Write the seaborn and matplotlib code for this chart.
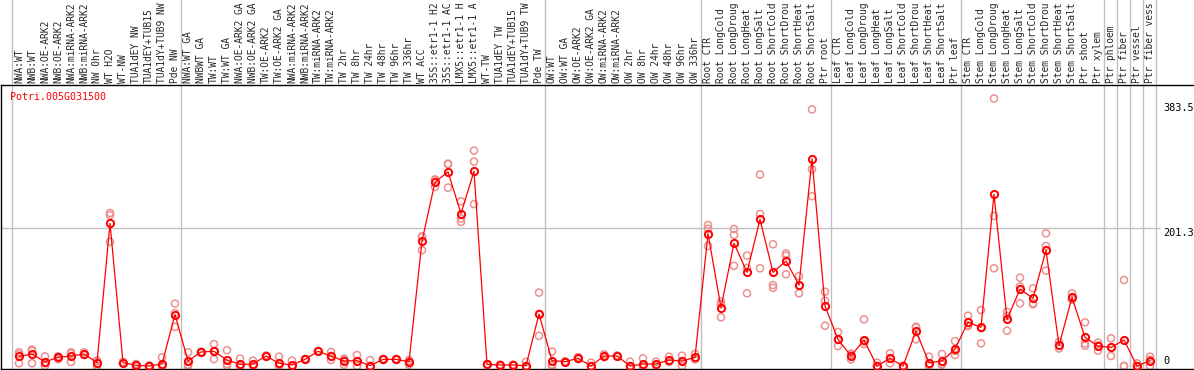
import matplotlib
matplotlib.use("Agg")
import matplotlib.pyplot as plt
import seaborn as sns
import pandas as pd

# sample labels, cut to 14 characters like in the source chart
samples = [
    "NWA:WT", "NWB:WT", "NWA:OE-ARK2", "NWB:OE-ARK2", "NWA:miRNA-ARK2", "NWB:miRNA-ARK2",
    "NW 0hr", "WT H2O", "WT-NW", "TUA1dEY NW", "TUA1dEY+TUB15", "TUA1dY+TUB9 NW", "Pde NW",
    "NWA:WT GA", "NWBWT GA", "TW:WT", "TW:WT GA", "NWA:OE-ARK2 GA", "NWB:OE-ARK2 GA",
    "TW:OE-ARK2", "TW:OE-ARK2 GA", "NWA:miRNA-ARK2", "NWB:miRNA-ARK2", "TW:miRNA-ARK2",
    "TW:miRNA-ARK2", "TW 2hr", "TW 8hr", "TW 24hr", "TW 48hr", "TW 96hr", "TW 336hr",
    "WT ACC", "35S::etr1-1 H2", "35S::etr1-1 AC", "LMX5::etr1-1 H", "LMX5::etr1-1 A",
    "WT-TW", "TUA1dEY TW", "TUA1dEY+TUB15", "TUA1dY+TUB9 TW", "Pde TW",
    "OW:WT", "OW:WT GA", "OW:OE-ARK2", "OW:OE-ARK2 GA", "OW:miRNA-ARK2", "OW:miRNA-ARK2",
    "OW 2hr", "OW 8hr", "OW 24hr", "OW 48hr", "OW 96hr", "OW 336hr",
    "Root CTR", "Root LongCold", "Root LongDroug", "Root LongHeat", "Root LongSalt",
    "Root ShortCold", "Root ShortDrou", "Root ShortHeat", "Root ShortSalt", "Ptr root",
    "Leaf CTR", "Leaf LongCold", "Leaf LongDroug", "Leaf LongHeat", "Leaf LongSalt",
    "Leaf ShortCold", "Leaf ShortDrou", "Leaf ShortHeat", "Leaf ShortSalt", "Ptr leaf",
    "Stem CTR", "Stem LongCold", "Stem LongDroug", "Stem LongHeat", "Stem LongSalt",
    "Stem ShortCold", "Stem ShortDrou", "Stem ShortHeat", "Stem ShortSalt", "Ptr shoot",
    "Ptr xylem", "Ptr phloem", "Ptr fiber", "Ptr vessel", "Ptr fiber vess",
]

means = [
    14, 17.5, 6, 12.6, 14.6, 17.5, 5, 208, 5, 1, 0, 3, 75,
    7.3, 20.4, 21.4, 8.7, 2.4, 2.9, 14.6, 3.9, 1.5, 9.7, 21.4, 14.6, 7.3, 7.8, 0.5,
    9.7, 9.7, 6.3, 182, 268, 283, 222, 284, 2.4, 1.5, 1.5, 0.5, 75.8,
    7.8, 6.3, 11.2, 0, 14.6, 14.6, 0, 2.9, 2.9, 8.7, 7.3, 12.6,
    193, 85, 179, 136.6, 213.8, 136.6, 153, 118, 302, 87.5,
    38.9, 14.6, 37.9, 0, 11.2, 0, 51, 4.9, 7.3, 24.8,
    63.7, 56.4, 250.3, 68, 112, 98.7, 169, 30, 100, 41.8, 29,
    27.2, 37.9, 0, 7.8,
]

rep1 = [
    20, 24, 14, 14, 20, 20, 7, 223, 6, 3, 1, 12.6, 91,
    20, 21, 32, 23, 10.7, 7.8, 15, 13.6, 7.8, 10.5, 22, 20.4, 10.7, 16, 8.7,
    10, 10, 8.7, 188, 271, 294, 240, 314, 3, 2, 2, 6, 107,
    21, 7, 13, 4.9, 17, 15, 6.3, 11.2, 6.3, 13.6, 15, 17.5,
    205.5, 93.7, 199.7, 161, 279, 177.4, 164, 131, 374, 108.3,
    49.6, 18, 68, 4.9, 18.5, 0, 57.3, 13.6, 17.5, 36.4,
    73.3, 81.6, 390, 79, 128.7, 113.2, 193.4, 35, 106, 63.7, 34,
    40.4, 125.4, 3.9, 13.6,
]

rep2 = [
    4, 4, 0, 10, 6, 16, 0, 220, 4, 0, 0, 0, 57,
    0, 20, 10, 0, 0, 0, 14, 1.5, 0, 9, 21, 8.7, 2, 0, 0,
    9, 9, 2, 169, 261, 260, 210, 298, 2, 1, 1, 0, 44,
    0, 6, 10, 0, 13, 14, 0, 0, 1, 6, 0, 10,
    200, 90, 191, 106, 221.6, 118, 133.7, 106, 287, 95,
    29, 9.7, 32, 0, 3.9, 0, 39, 0, 3, 16,
    59.8, 33, 218.7, 51.5, 91.4, 91.4, 139, 25.5, 97, 33, 22.4,
    14.6, 0, 0, 0,
]

rep3 = [
    17, 22, 4, 13, 18, 17, 8, 181, 5, 0, 0, 0, 77,
    2, 20, 22, 3, 0, 1, 15, 0, 0, 9.7, 21, 14.6, 9, 7, 0,
    10, 10, 7, 189, 272, 295, 215, 236, 2, 1.5, 1.5, 0, 76,
    2, 6, 11, 0, 14, 15, 0, 0, 1.5, 7, 7, 10,
    175, 71, 146, 143, 142.4, 114, 161, 117, 247.5, 58.7,
    38, 16, 36, 0, 11, 0, 56, 1, 2, 22,
    58, 55, 142.4, 73, 116, 90, 175, 30, 97, 29.6, 30,
    27, 0, 0, 9,
]

gene = "Potri.005G031500"
y_marks = [383.5, 201.3, 0]
group_edges = [-0.5, 12.5, 40.5, 52.5, 62.5, 72.5, 83.5, 84.5, 85.5, 86.5, 87.5]

idx = list(range(len(samples)))
mean_df = pd.DataFrame({"x": idx, "value": means})
rep_df = pd.DataFrame({
    "x": idx * 3,
    "value": rep1 + rep2 + rep3,
})

sns.set_style("white")
plt.rcParams["font.family"] = ["DejaVu Sans Mono"]

W, H = 1194, 370
fig = plt.figure(figsize=(W / 100, H / 100), dpi=100)

# main plot area: 1px from left, from y=85 to y=369 (pixels from top)
ax = fig.add_axes([1 / W, 1 / H, (W - 1) / W, 284 / H])
lab = fig.add_axes([1 / W, 285 / H, (W - 1) / W, 85 / H])

px = 13.0  # pixels per sample
xmin = -18 / px
xmax = xmin + (W - 1) / px
ax.set_xlim(xmin, xmax)
lab.set_xlim(xmin, xmax)
ymin = -3 / 0.686
ax.set_ylim(ymin, ymin + 284 / 0.686)
lab.set_ylim(0, 85)

grey = "#c0c0c0"
for e in group_edges:
    ax.axvline(e, color=grey, lw=1.0, zorder=0)
    lab.axvline(e, color=grey, lw=1.0, zorder=0)
ax.hlines(201.3, xmin, 87.8, color=grey, lw=1.0, zorder=0)

sns.scatterplot(data=rep_df, x="x", y="value", ax=ax, marker="o", s=26,
                facecolor="none", edgecolor="#ec9090", linewidth=1.1,
                legend=False, zorder=2)
sns.lineplot(data=mean_df, x="x", y="value", ax=ax, color="#ff0000", lw=0.9,
             marker="o", markersize=5.2, markerfacecolor="none",
             markeredgecolor="#ff0000", markeredgewidth=1.4, zorder=3)

ax.set_xticks([])
ax.set_yticks([])
ax.set_xlabel("")
ax.set_ylabel("")
for s in ["left", "top", "bottom"]:
    ax.spines[s].set_color("black")
    ax.spines[s].set_linewidth(1.0)
ax.spines["right"].set_visible(False)

# value marks on the right
ax.text(88.0, y_marks[0], "383.5", fontsize=7.4, va="top", ha="left", color="black")
ax.text(88.0, y_marks[1], "201.3", fontsize=7.4, va="top", ha="left", color="black")
ax.text(88.0, y_marks[2], "0", fontsize=7.4, va="bottom", ha="left", color="black")

ax.text(9 / W, 1 - 12 / 284, gene, transform=ax.transAxes, fontsize=7.2,
        color="#ff0000", va="center", ha="left")

lab.axis("off")
for i, name in enumerate(samples):
    lab.text(i, 2, name, rotation=90, fontsize=6.9, ha="center", va="bottom")

fig.savefig("out.png", dpi=100)
plt.close(fig)
